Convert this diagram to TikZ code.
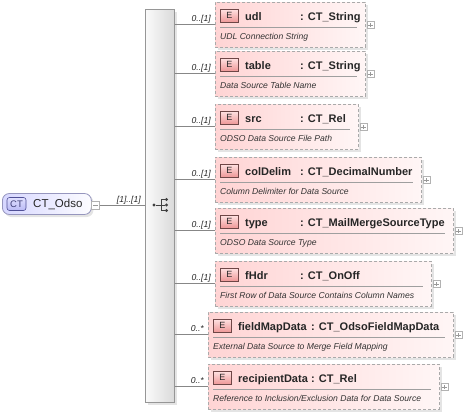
\documentclass[tikz,border=0pt]{standalone}
\usepackage{fontspec}
\setmainfont{Liberation Sans}
\usetikzlibrary{calc}
\definecolor{elemL}{RGB}{255,212,212}
\definecolor{elemR}{RGB}{255,246,246}
\definecolor{elemBorder}{RGB}{170,170,170}
\definecolor{badgeTop}{RGB}{255,225,225}
\definecolor{badgeBot}{RGB}{238,150,150}
\definecolor{badgeBorder}{RGB}{110,70,70}
\definecolor{connC}{RGB}{135,135,135}
\definecolor{shadowC}{RGB}{228,228,228}
\definecolor{ctL}{RGB}{215,215,255}
\definecolor{ctR}{RGB}{252,252,255}
\definecolor{ctBorder}{RGB}{150,150,190}
\definecolor{ctBadgeTop}{RGB}{225,225,255}
\definecolor{ctBadgeBot}{RGB}{185,185,245}
\definecolor{ctBadgeBorder}{RGB}{80,80,150}
\definecolor{barL}{RGB}{250,250,250}
\definecolor{barR}{RGB}{218,218,218}
\definecolor{barBorder}{RGB}{150,150,150}
\tikzset{
  conn/.style={draw=connC, line width=0.8pt},
  elembox/.style={draw=elemBorder, dash pattern=on 3pt off 2pt, line width=0.8pt,
    left color=elemL, right color=elemR, inner sep=0pt, anchor=north west, minimum height=45},
  ebadge/.style={draw=badgeBorder, line width=0.6pt, top color=badgeTop, bottom color=badgeBot,
    minimum width=18, minimum height=13, inner sep=0pt, anchor=north west,
    font=\fontsize{9}{9}\selectfont, text=black!85},
  namefont/.style={font=\fontsize{11}{13}\selectfont\bfseries, inner sep=0pt, text=black!85},
  ctfont/.style={font=\fontsize{11.5}{13}\selectfont, inner sep=0pt, text=black!85},
  descfont/.style={font=\fontsize{8.6}{10}\selectfont\itshape, inner sep=0pt, text=black!80},
  multlbl/.style={font=\fontsize{8.6}{10}\selectfont\itshape, inner sep=0pt, text=black!85},
  sepline/.style={draw=gray!75, line width=0.7pt},
  plusbox/.style={draw=gray!60, fill=white, line width=0.5pt, minimum size=7, inner sep=0pt,
    path picture={\draw[gray!80, line width=0.5pt]
      ([xshift=-2.2pt]path picture bounding box.center) -- ([xshift=2.2pt]path picture bounding box.center)
      ([yshift=-2.2pt]path picture bounding box.center) -- ([yshift=2.2pt]path picture bounding box.center);}},
  minusbox/.style={draw=gray!60, fill=white, line width=0.5pt, minimum size=8, inner sep=0pt,
    path picture={\draw[gray!80, line width=0.5pt]
      ([xshift=-2.4pt]path picture bounding box.center) -- ([xshift=2.4pt]path picture bounding box.center);}},
  barbox/.style={draw=barBorder, line width=0.7pt, left color=barL, right color=barR,
    anchor=north west, inner sep=0pt},
  ctbox/.style={draw=ctBorder, line width=0.8pt, rounded corners=7pt, left color=ctL, right color=ctR,
    inner sep=0pt, anchor=west},
  ctbadge/.style={draw=ctBadgeBorder, line width=0.6pt, rounded corners=2.5pt, top color=ctBadgeTop,
    bottom color=ctBadgeBot, minimum width=19, minimum height=13, inner sep=0pt,
    font=\fontsize{9.5}{9.5}\selectfont, text=ctBadgeBorder!80!black},
  seqdot/.style={circle, fill=black!75, inner sep=0pt, minimum size=3.2},
}
% id, left, top, right, typex, mult, name, type, desc
\newcommand{\Elem}[9]{%
  \fill[shadowC] (#2+2.5,#3+2.5) rectangle (#4+2.5,#3+47.5);
  \node[elembox, minimum width={#4-#2}] (#1) at (#2,#3) {};
  \coordinate (#1-in) at (#2,#3+22);
  \draw[conn] (bar.east |- #1-in) -- (#1-in);
  \node[multlbl, anchor=base east] (#1-m) at (#2-4,#3+19) {#6};
  \node[ebadge] (#1-b) at (#2+5,#3+7) {E};
  \node[namefont, anchor=base west] (#1-n) at (#2+30,#3+18) {#7};
  \node[namefont, anchor=base west] (#1-t) at (#5,#3+18) {: #8};
  \draw[sepline] (#2+5,#3+25) -- (#4-8,#3+25);
  \node[descfont, anchor=base west] (#1-d) at (#2+5,#3+37) {#9};
  \node[plusbox] (#1-p) at (#4+5.5,#3+23) {};
}
\begin{document}
\begin{tikzpicture}[x=1pt, y=-1pt]
\useasboundingbox (0,0) rectangle (463,415);
% sequence bar
\fill[shadowC] (147.5,11.5) rectangle (176.5,404.5);
\node[barbox, minimum width=29, minimum height=393] (bar) at (145,9) {};
% CT node
\fill[shadowC, rounded corners=7pt] (4.5,195.5) rectangle (93.5,217);
\node[ctbox, minimum width=89, minimum height=21] (ct) at (2,204) {};
\node[ctbadge] (ctb) at (16.5,204) {CT};
\node[ctfont, anchor=west] (ctn) at (33,204) {CT\_Odso};
\node[minusbox] (ctminus) at (95.5,205) {};
\draw[conn] (ctminus.east) -- (bar.west |- ctminus.east);
\node[multlbl, anchor=base east] (ctm) at (141,202) {[1]..[1]};
% sequence icon
\node[seqdot] (s0) at (154,205) {};
\node[seqdot] (s1) at (166.5,199.5) {};
\node[seqdot] (s2) at (166.5,205) {};
\node[seqdot] (s3) at (166.5,210.5) {};
\coordinate (sv) at (161,205);
\draw[black!75, line width=0.8pt] (s0) -- (s2) (sv |- s1) -- (sv |- s3) (sv |- s1) -- (s1) (sv |- s3) -- (s3);
% elements
\Elem{udl}{215}{2}{365}{300}{0..[1]}{udl}{CT\_String}{UDL Connection String}
\Elem{table}{215}{51}{365}{300}{0..[1]}{table}{CT\_String}{Data Source Table Name}
\Elem{src}{215}{104}{358}{300}{0..[1]}{src}{CT\_Rel}{ODSO Data Source File Path}
\Elem{colDelim}{215}{157}{421}{300}{0..[1]}{colDelim}{CT\_DecimalNumber}{Column Delimiter for Data Source}
\Elem{type}{215}{208}{453}{300}{0..[1]}{type}{CT\_MailMergeSourceType}{ODSO Data Source Type}
\Elem{fHdr}{215}{261}{431}{300}{0..[1]}{fHdr}{CT\_OnOff}{First Row of Data Source Contains Column Names}
\Elem{fieldMapData}{208}{312}{453}{311}{0..*}{fieldMapData}{CT\_OdsoFieldMapData}{External Data Source to Merge Field Mapping}
\Elem{recipientData}{208}{364}{439}{311}{0..*}{recipientData}{CT\_Rel}{Reference to Inclusion/Exclusion Data for Data Source}
\end{tikzpicture}
\end{document}
